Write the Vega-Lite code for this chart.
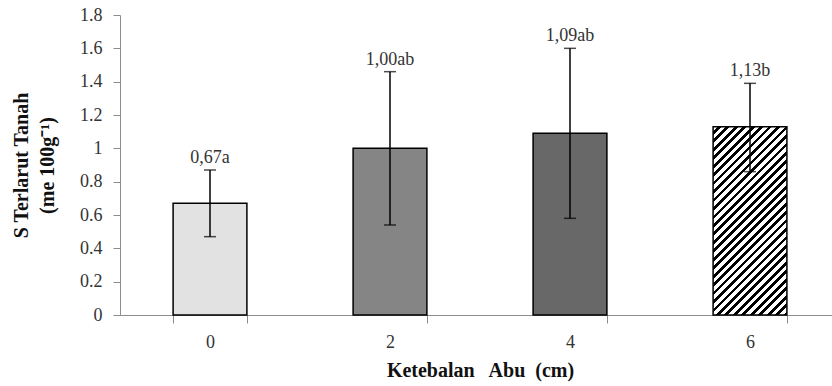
{
  "$schema": "https://vega.github.io/schema/vega-lite/v6.json",
  "width": 712,
  "height": 300,
  "autosize": "none",
  "padding": {"left": 120, "top": 15, "right": 0, "bottom": 71},
  "background": "white",
  "config": {
    "view": {"stroke": null},
    "font": "Liberation Serif",
    "axis": {"labelFont": "Liberation Serif", "titleFont": "Liberation Serif", "grid": false},
    "axisY": {
      "labelOverlap": false,
      "domainColor": "#8c8c8c",
      "tickColor": "#8c8c8c",
      "tickSize": 7,
      "labelFontSize": 18,
      "labelColor": "#333333",
      "labelPadding": 11,
      "titleFontSize": 20,
      "titleFontWeight": "bold",
      "titleColor": "#111111",
      "titleLineHeight": 26,
      "titlePadding": 22
    }
  },
  "data": {
    "values": [
      {"k": "0", "v": 0.67, "lo": 0.47, "hi": 0.87, "label": "0,67a"},
      {"k": "2", "v": 1.0, "lo": 0.54, "hi": 1.46, "label": "1,00ab"},
      {"k": "4", "v": 1.09, "lo": 0.58, "hi": 1.6, "label": "1,09ab"},
      {"k": "6", "v": 1.13, "lo": 0.86, "hi": 1.39, "label": "1,13b"}
    ]
  },
  "encoding": {
    "x": {
      "field": "k",
      "type": "nominal",
      "sort": null,
      "scale": {"range": [0, 720], "paddingInner": 0.59, "paddingOuter": 0.295},
      "axis": {
        "title": "Ketebalan\u00a0\u00a0 Abu\u00a0 (cm)",
        "labelAngle": 0,
        "tickBand": "extent",
        "domainColor": "#8c8c8c",
        "tickColor": "#8c8c8c",
        "tickSize": 8,
        "labelFontSize": 18,
        "labelColor": "#333333",
        "labelPadding": 10,
        "titleFontSize": 20,
        "titleFontWeight": "bold",
        "titleColor": "#111111",
        "titlePadding": 9
      }
    }
  },
  "layer": [
    {
      "mark": {"type": "bar", "stroke": "black", "strokeWidth": 1.5},
      "encoding": {
        "y": {
          "field": "v",
          "type": "quantitative",
          "scale": {"domain": [0, 1.8]},
          "axis": {"title": ["S Terlarut Tanah", "(me 100g\u207b\u00b9)"], "values": [0, 0.2, 0.4, 0.6, 0.8, 1, 1.2, 1.4, 1.6, 1.8], "format": ".1~f"}
        },
        "fill": {
          "condition": {
            "test": "datum.k === '6'",
            "value": {
              "gradient": "linear",
              "x1": 0, "y1": 0, "x2": 0.473, "y2": 1.207,
              "stops": [
                {"offset": 0, "color": "white"}, {"offset": 0.01774, "color": "white"}, {"offset": 0.01774, "color": "black"}, {"offset": 0.03226, "color": "black"},
                {"offset": 0.03226, "color": "white"}, {"offset": 0.05000, "color": "white"}, {"offset": 0.05000, "color": "black"}, {"offset": 0.06452, "color": "black"},
                {"offset": 0.06452, "color": "white"}, {"offset": 0.08226, "color": "white"}, {"offset": 0.08226, "color": "black"}, {"offset": 0.09677, "color": "black"},
                {"offset": 0.09677, "color": "white"}, {"offset": 0.11452, "color": "white"}, {"offset": 0.11452, "color": "black"}, {"offset": 0.12903, "color": "black"},
                {"offset": 0.12903, "color": "white"}, {"offset": 0.14677, "color": "white"}, {"offset": 0.14677, "color": "black"}, {"offset": 0.16129, "color": "black"},
                {"offset": 0.16129, "color": "white"}, {"offset": 0.17903, "color": "white"}, {"offset": 0.17903, "color": "black"}, {"offset": 0.19355, "color": "black"},
                {"offset": 0.19355, "color": "white"}, {"offset": 0.21129, "color": "white"}, {"offset": 0.21129, "color": "black"}, {"offset": 0.22581, "color": "black"},
                {"offset": 0.22581, "color": "white"}, {"offset": 0.24355, "color": "white"}, {"offset": 0.24355, "color": "black"}, {"offset": 0.25806, "color": "black"},
                {"offset": 0.25806, "color": "white"}, {"offset": 0.27581, "color": "white"}, {"offset": 0.27581, "color": "black"}, {"offset": 0.29032, "color": "black"},
                {"offset": 0.29032, "color": "white"}, {"offset": 0.30806, "color": "white"}, {"offset": 0.30806, "color": "black"}, {"offset": 0.32258, "color": "black"},
                {"offset": 0.32258, "color": "white"}, {"offset": 0.34032, "color": "white"}, {"offset": 0.34032, "color": "black"}, {"offset": 0.35484, "color": "black"},
                {"offset": 0.35484, "color": "white"}, {"offset": 0.37258, "color": "white"}, {"offset": 0.37258, "color": "black"}, {"offset": 0.38710, "color": "black"},
                {"offset": 0.38710, "color": "white"}, {"offset": 0.40484, "color": "white"}, {"offset": 0.40484, "color": "black"}, {"offset": 0.41935, "color": "black"},
                {"offset": 0.41935, "color": "white"}, {"offset": 0.43710, "color": "white"}, {"offset": 0.43710, "color": "black"}, {"offset": 0.45161, "color": "black"},
                {"offset": 0.45161, "color": "white"}, {"offset": 0.46935, "color": "white"}, {"offset": 0.46935, "color": "black"}, {"offset": 0.48387, "color": "black"},
                {"offset": 0.48387, "color": "white"}, {"offset": 0.50161, "color": "white"}, {"offset": 0.50161, "color": "black"}, {"offset": 0.51613, "color": "black"},
                {"offset": 0.51613, "color": "white"}, {"offset": 0.53387, "color": "white"}, {"offset": 0.53387, "color": "black"}, {"offset": 0.54839, "color": "black"},
                {"offset": 0.54839, "color": "white"}, {"offset": 0.56613, "color": "white"}, {"offset": 0.56613, "color": "black"}, {"offset": 0.58065, "color": "black"},
                {"offset": 0.58065, "color": "white"}, {"offset": 0.59839, "color": "white"}, {"offset": 0.59839, "color": "black"}, {"offset": 0.61290, "color": "black"},
                {"offset": 0.61290, "color": "white"}, {"offset": 0.63065, "color": "white"}, {"offset": 0.63065, "color": "black"}, {"offset": 0.64516, "color": "black"},
                {"offset": 0.64516, "color": "white"}, {"offset": 0.66290, "color": "white"}, {"offset": 0.66290, "color": "black"}, {"offset": 0.67742, "color": "black"},
                {"offset": 0.67742, "color": "white"}, {"offset": 0.69516, "color": "white"}, {"offset": 0.69516, "color": "black"}, {"offset": 0.70968, "color": "black"},
                {"offset": 0.70968, "color": "white"}, {"offset": 0.72742, "color": "white"}, {"offset": 0.72742, "color": "black"}, {"offset": 0.74194, "color": "black"},
                {"offset": 0.74194, "color": "white"}, {"offset": 0.75968, "color": "white"}, {"offset": 0.75968, "color": "black"}, {"offset": 0.77419, "color": "black"},
                {"offset": 0.77419, "color": "white"}, {"offset": 0.79194, "color": "white"}, {"offset": 0.79194, "color": "black"}, {"offset": 0.80645, "color": "black"},
                {"offset": 0.80645, "color": "white"}, {"offset": 0.82419, "color": "white"}, {"offset": 0.82419, "color": "black"}, {"offset": 0.83871, "color": "black"},
                {"offset": 0.83871, "color": "white"}, {"offset": 0.85645, "color": "white"}, {"offset": 0.85645, "color": "black"}, {"offset": 0.87097, "color": "black"},
                {"offset": 0.87097, "color": "white"}, {"offset": 0.88871, "color": "white"}, {"offset": 0.88871, "color": "black"}, {"offset": 0.90323, "color": "black"},
                {"offset": 0.90323, "color": "white"}, {"offset": 0.92097, "color": "white"}, {"offset": 0.92097, "color": "black"}, {"offset": 0.93548, "color": "black"},
                {"offset": 0.93548, "color": "white"}, {"offset": 0.95323, "color": "white"}, {"offset": 0.95323, "color": "black"}, {"offset": 0.96774, "color": "black"},
                {"offset": 0.96774, "color": "white"}, {"offset": 0.98548, "color": "white"}, {"offset": 0.98548, "color": "black"}, {"offset": 1, "color": "black"}
              ]
            }
          },
          "field": "k",
          "type": "nominal",
          "scale": {"domain": ["0", "2", "4", "6"], "range": ["#e2e2e2", "#858585", "#686868", "#808080"]},
          "legend": null
        }
      }
    },
    {
      "mark": {"type": "rule", "color": "black", "strokeWidth": 1.5},
      "encoding": {
        "y": {"field": "lo", "type": "quantitative", "axis": {"title": ["S Terlarut Tanah", "(me 100g\u207b\u00b9)"], "values": [0, 0.2, 0.4, 0.6, 0.8, 1, 1.2, 1.4, 1.6, 1.8], "format": ".1~f"}},
        "y2": {"field": "hi"}
      }
    },
    {
      "mark": {"type": "tick", "color": "black", "thickness": 1.5, "size": 12},
      "encoding": {"y": {"field": "hi", "type": "quantitative", "axis": {"title": ["S Terlarut Tanah", "(me 100g\u207b\u00b9)"], "values": [0, 0.2, 0.4, 0.6, 0.8, 1, 1.2, 1.4, 1.6, 1.8], "format": ".1~f"}}}
    },
    {
      "mark": {"type": "tick", "color": "black", "thickness": 1.5, "size": 12},
      "encoding": {"y": {"field": "lo", "type": "quantitative", "axis": {"title": ["S Terlarut Tanah", "(me 100g\u207b\u00b9)"], "values": [0, 0.2, 0.4, 0.6, 0.8, 1, 1.2, 1.4, 1.6, 1.8], "format": ".1~f"}}}
    },
    {
      "mark": {"type": "text", "baseline": "bottom", "dy": -3, "fontSize": 18, "color": "#333333", "font": "Liberation Serif"},
      "encoding": {
        "y": {"field": "hi", "type": "quantitative", "axis": {"title": ["S Terlarut Tanah", "(me 100g\u207b\u00b9)"], "values": [0, 0.2, 0.4, 0.6, 0.8, 1, 1.2, 1.4, 1.6, 1.8], "format": ".1~f"}},
        "text": {"field": "label"}
      }
    }
  ]
}
